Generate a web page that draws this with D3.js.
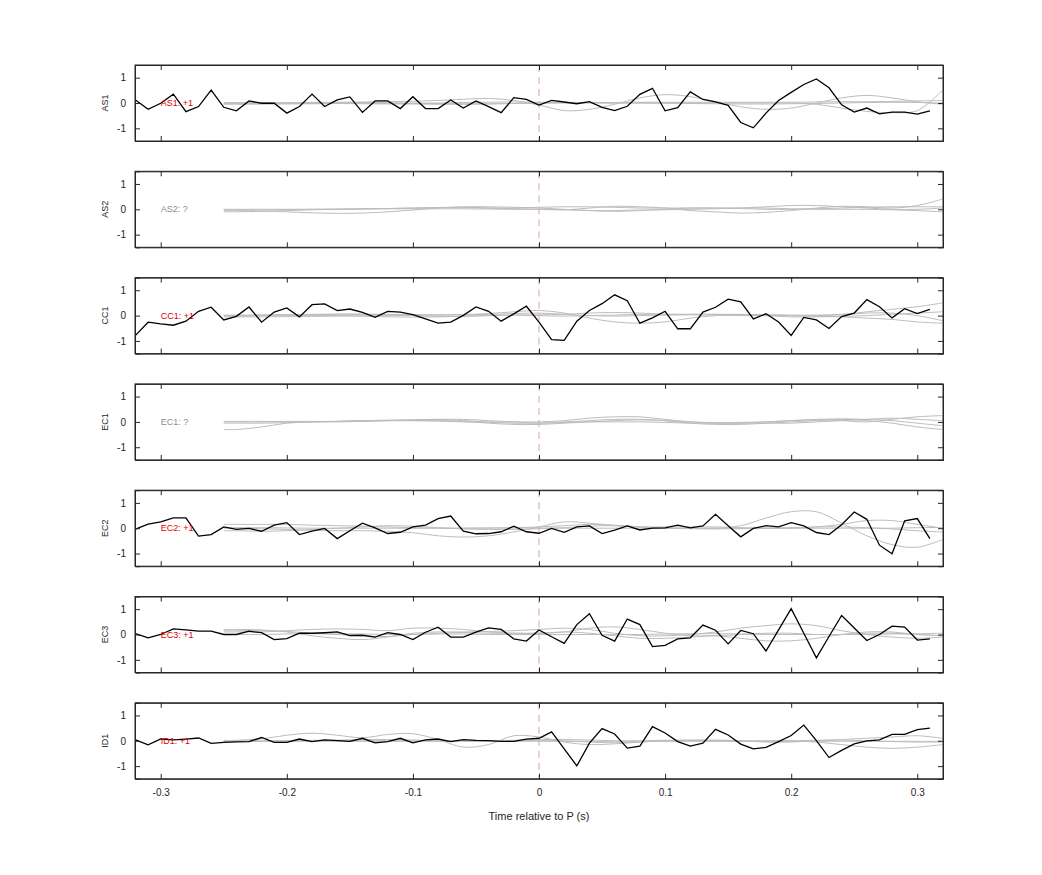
<!DOCTYPE html>
<html><head><meta charset="utf-8">
<script src="https://cdn.jsdelivr.net/npm/d3@7"></script>
<style>body{margin:0;background:#fff;font-family:"Liberation Sans",Arial,sans-serif;}</style>
</head><body><div id="chart"></div>
<script>
const channels = ["AS1","AS2","CC1","EC1","EC2","EC3","ID1"];
const labels = ["AS1: +1","AS2: ?","CC1: +1","EC1: ?","EC2: +1","EC3: +1","ID1: +1"];
const labelIsRed = [true,false,true,false,true,true,true];
const xTicks = [-0.3,-0.2,-0.1,0,0.1,0.2,0.3];
const xTickLabels = ["-0.3","-0.2","-0.1","0","0.1","0.2","0.3"];
const yTicks = [-1,0,1];
const yTickLabels = ["-1","0","1"];

const time = [-0.32,-0.31,-0.30,-0.29,-0.28,-0.27,-0.26,-0.25,-0.24,-0.23,-0.22,-0.21,-0.20,-0.19,-0.18,-0.17,-0.16,-0.15,-0.14,-0.13,-0.12,-0.11,-0.10,-0.09,-0.08,-0.07,-0.06,-0.05,-0.04,-0.03,-0.02,-0.01,0.00,0.01,0.02,0.03,0.04,0.05,0.06,0.07,0.08,0.09,0.10,0.11,0.12,0.13,0.14,0.15,0.16,0.17,0.18,0.19,0.20,0.21,0.22,0.23,0.24,0.25,0.26,0.27,0.28,0.29,0.30,0.31];

const AS1 = [0.12,-0.25,-0.01,0.35,-0.34,-0.14,0.51,-0.17,-0.31,0.08,-0.01,-0.01,-0.40,-0.14,0.35,-0.14,0.12,0.24,-0.37,0.08,0.08,-0.22,0.25,-0.22,-0.22,0.12,-0.20,0.08,-0.14,-0.38,0.21,0.14,-0.08,0.10,0.04,-0.03,0.05,-0.17,-0.30,-0.13,0.34,0.58,-0.31,-0.18,0.44,0.14,0.04,-0.09,-0.77,-0.98,-0.40,0.10,0.42,0.73,0.95,0.60,-0.07,-0.36,-0.20,-0.43,-0.36,-0.36,-0.44,-0.31];
const AS2 = null;
const CC1 = [-0.78,-0.26,-0.33,-0.38,-0.22,0.17,0.33,-0.17,-0.03,0.34,-0.26,0.14,0.30,-0.05,0.43,0.46,0.20,0.26,0.13,-0.07,0.17,0.14,0.04,-0.13,-0.30,-0.26,0.01,0.34,0.17,-0.22,0.07,0.37,-0.26,-0.95,-0.98,-0.22,0.20,0.47,0.82,0.59,-0.30,-0.09,0.17,-0.52,-0.52,0.14,0.33,0.65,0.54,-0.13,0.07,-0.25,-0.78,-0.07,-0.17,-0.51,-0.04,0.10,0.63,0.35,-0.09,0.27,0.08,0.25];
const EC1 = null;
const EC2 = [-0.04,0.16,0.25,0.41,0.41,-0.31,-0.25,0.05,-0.05,-0.01,-0.12,0.12,0.22,-0.25,-0.12,-0.01,-0.41,-0.10,0.20,0.01,-0.21,-0.16,0.05,0.12,0.38,0.48,-0.12,-0.22,-0.21,-0.14,0.08,-0.14,-0.20,-0.01,-0.16,0.05,0.09,-0.21,-0.08,0.09,-0.07,0.00,0.01,0.12,0.01,0.09,0.55,0.10,-0.34,-0.01,0.10,0.05,0.22,0.09,-0.17,-0.25,0.14,0.64,0.35,-0.67,-1.01,0.29,0.38,-0.41];
const EC3 = [0.03,-0.13,0.00,0.22,0.18,0.13,0.13,0.00,0.00,0.13,0.07,-0.20,-0.16,0.05,0.05,0.07,0.10,-0.04,-0.03,-0.10,0.07,0.00,-0.20,0.09,0.29,-0.10,-0.10,0.09,0.26,0.20,-0.17,-0.26,0.18,-0.09,-0.35,0.39,0.82,-0.03,-0.26,0.61,0.39,-0.48,-0.43,-0.17,-0.13,0.37,0.17,-0.37,0.16,0.03,-0.65,0.18,1.02,0.05,-0.92,-0.08,0.75,0.26,-0.24,0.00,0.33,0.29,-0.22,-0.17];
const ID1 = [0.04,-0.16,0.07,0.04,0.07,0.11,-0.10,-0.06,-0.04,-0.03,0.13,-0.06,-0.06,0.07,-0.03,0.04,0.01,-0.02,0.10,-0.08,-0.03,0.10,-0.08,0.04,0.07,-0.03,0.05,0.02,0.01,-0.02,-0.02,0.07,0.10,0.35,-0.32,-0.99,-0.09,0.48,0.27,-0.29,-0.21,0.56,0.31,-0.03,-0.21,-0.09,0.45,0.23,-0.13,-0.32,-0.26,-0.03,0.21,0.62,0.01,-0.66,-0.38,-0.12,0.00,0.04,0.25,0.25,0.44,0.50];
const mainSeries = [AS1, AS2, CC1, EC1, EC2, EC3, ID1];

const grayTime = [-0.25,-0.24,-0.22,-0.20,-0.18,-0.16,-0.14,-0.12,-0.10,-0.08,-0.06,-0.04,-0.02,0.00,0.02,0.04,0.06,0.08,0.10,0.12,0.14,0.16,0.18,0.20,0.22,0.24,0.26,0.28,0.30,0.32];

const grayAS1 = [
 [0,0,0,0.01,0.02,0.03,0.04,0.05,0.07,0.1,0.15,0.18,0.1,-0.08,-0.3,-0.25,-0.05,0.2,0.33,0.25,0.05,-0.15,-0.25,-0.2,0,0.2,0.3,0.2,0.05,-0.05],
 [-0.05,-0.05,-0.04,-0.03,-0.02,-0.02,-0.03,-0.03,-0.02,-0.02,-0.03,-0.03,-0.02,0,0.01,0.01,0,0,0,0,0,0,0,0,-0.05,-0.2,-0.33,-0.38,-0.3,0.5],
 [0.02,0.02,0.01,0,0,0.01,0.02,0.01,0,0,0.02,0.03,0.04,0.03,0.02,0.02,0.02,0.03,0.03,0.03,0.03,0.03,0.03,0.03,0.04,0.05,0.05,0.06,0.08,0.1],
 [-0.02,-0.02,-0.03,-0.03,-0.03,-0.02,-0.02,-0.03,-0.04,-0.05,-0.05,-0.04,-0.02,0,0,0,0,0,-0.01,-0.02,-0.03,-0.04,-0.04,-0.03,-0.02,0,0.02,0.03,0.02,0]
];
const grayAS2 = [
 [-0.1,-0.1,-0.08,-0.05,-0.02,0,0.01,0.03,0.05,0.07,0.08,0.05,0.02,0,-0.02,0.05,0.12,0.1,0.05,-0.05,-0.1,-0.15,-0.12,-0.05,0.05,0.12,0.1,0.05,0.15,0.4],
 [-0.05,-0.05,-0.07,-0.1,-0.14,-0.16,-0.15,-0.1,-0.03,0.05,0.1,0.1,0.08,0.05,0,-0.05,-0.08,-0.05,0,0.05,0.05,0.03,0,0,0.02,0.05,0.08,0.1,0.1,0.1],
 [0,0,0,0,0,0,0.02,0.03,0.05,0.07,0.07,0.05,0.05,0.08,0.1,0.1,0.08,0.05,0.05,0.05,0.05,0.05,0.05,0.02,0,0,0,-0.02,-0.05,-0.1],
 [-0.03,-0.03,-0.02,-0.01,0,0.01,0.02,0.02,0.02,0.02,0.02,0.01,0,0,-0.02,-0.05,-0.05,-0.03,-0.02,0,0.02,0.05,0.1,0.15,0.15,0.1,0.05,0,0,0.05]
];
const grayCC1 = [
 [0,0,0.02,0.04,0.05,0.06,0.06,0.05,0.04,0.03,0.04,0.08,0.15,0.2,0.1,-0.1,-0.25,-0.3,-0.25,-0.1,0,0.03,0.03,0.02,0.02,0.05,0.15,0.25,0.35,0.5],
 [-0.05,-0.05,-0.05,-0.04,-0.03,-0.02,-0.01,0,0.01,0.02,0.03,0.05,0.08,0.1,0.05,0,-0.02,0,0.02,0.03,0.02,0,0,0,0,0.03,0.1,0.1,0,-0.2],
 [0.02,0.02,0.02,0.02,0.01,0,-0.02,-0.05,-0.06,-0.05,-0.02,0,0.02,0.03,0.05,0.1,0.12,0.1,0.05,0.05,0.05,0.03,0,-0.05,-0.05,-0.03,0,0.05,0.1,0.15],
 [-0.02,-0.02,0,0.02,0.04,0.05,0.05,0.03,0,-0.03,-0.03,0,0.02,0,-0.02,0,0.02,0.05,0.05,0.05,0.05,0.05,0.03,0,-0.03,-0.05,-0.1,-0.15,-0.25,-0.3]
];
const grayEC1 = [
 [-0.3,-0.3,-0.2,-0.05,0,0,0.02,0.05,0.08,0.1,0.05,0,0,0,0.05,0.15,0.2,0.2,0.1,0,-0.05,-0.05,0,0.05,0.1,0.12,0.1,0.05,-0.05,-0.15],
 [-0.05,-0.05,-0.05,-0.03,0,0.02,0.05,0.07,0.08,0.1,0.1,0.05,0,-0.05,0,0.05,0.1,0.1,0.05,-0.05,-0.1,-0.1,-0.05,0,0.05,0.1,0.05,-0.05,-0.2,-0.3],
 [0,0,0,0,0,0.02,0.05,0.05,0.05,0.05,0.02,-0.05,-0.1,-0.1,-0.05,0,0.05,0.08,0.05,0,-0.03,-0.05,-0.05,-0.05,0,0.05,0.1,0.15,0.1,0.05],
 [0.02,0.02,0.02,0.02,0.02,0.02,0.03,0.05,0.05,0.03,0,-0.02,-0.05,-0.05,-0.02,0,0,0,-0.02,-0.05,-0.05,-0.02,0,0.05,0.08,0.05,0,0.1,0.2,0.25]
];
const grayEC2 = [
 [0.15,0.15,0.15,0.15,0.12,0.1,0.08,0.05,0.02,0,0,0,0.02,0.05,0.1,0.15,0.12,0.05,0,0,0,0.1,0.4,0.65,0.65,0.2,-0.3,-0.65,-0.75,-0.45],
 [0,0,-0.02,-0.05,-0.08,-0.1,-0.1,-0.12,-0.18,-0.3,-0.35,-0.3,-0.15,0.05,0.25,0.2,0.1,0.05,0.05,0.05,0.05,0.02,0,0,0.05,0.15,0.3,0.3,0.15,0],
 [-0.1,-0.1,-0.12,-0.1,-0.05,0,0.05,0.1,0.08,0.02,-0.03,-0.05,-0.05,-0.02,0.02,0.08,0.1,0.05,0,-0.02,-0.03,-0.02,0,0.02,0.05,0.05,0.02,-0.03,-0.1,-0.15],
 [0.02,0.02,0.02,0.01,0,0,0,0,0,0,0,0.01,0.01,0.01,0,0,0,0,0,0,0,0,0,0,0,0,0,0,0.02,0.03]
];
const grayEC3 = [
 [0.2,0.2,0.18,0.1,-0.05,-0.15,-0.2,-0.1,0.05,0.1,0.1,0.12,0.15,0.2,0.25,0.2,0.05,-0.05,-0.05,0,0.1,0.25,0.35,0.42,0.35,0.15,0,-0.1,-0.15,-0.1],
 [0.1,0.1,0.1,0.15,0.2,0.22,0.2,0.15,0.25,0.25,0.2,0.1,0.05,0.05,0.1,0.05,-0.05,-0.15,-0.15,-0.1,-0.05,-0.15,-0.25,-0.25,-0.15,0,0.1,0.1,0,-0.05],
 [0.15,0.15,0.15,0.12,0.05,0,-0.05,-0.08,0,0.05,0.08,0.05,0.05,0.05,0.1,0.25,0.3,0.2,0.05,-0.05,-0.05,0,0.05,0.05,0,0,0.05,0.05,0,-0.05],
 [0,0,0,0.02,0.03,0.03,0.02,0,0,0.02,0.02,0,0,0,0,0,0,0,0.02,0.03,0.03,0.02,0,0,0,0,0,0.02,0.03,0.05]
];
const grayID1 = [
 [0,0.02,0.08,0.22,0.3,0.22,0.12,0.25,0.28,0.05,-0.25,-0.15,0.2,0.15,-0.05,-0.15,-0.12,-0.05,0,0.02,0,-0.02,-0.02,0,0.02,0.03,0,-0.03,-0.05,-0.05],
 [0,0,0,0,0,0.02,0.05,0.05,0.03,0,0,0,0,0.02,0,-0.05,-0.08,-0.05,0,0,0,0,0,0,-0.05,-0.15,-0.25,-0.3,-0.25,-0.15],
 [-0.02,-0.02,-0.02,0,0.02,0.02,0,0,0,0,0,0,0.02,0.05,0.05,0.03,0,0,0.02,0.03,0.03,0,-0.05,-0.05,0,0.05,0.1,0.15,0.2,0.1],
 [-0.03,-0.03,-0.02,-0.02,-0.02,-0.02,-0.02,-0.02,-0.02,-0.02,-0.02,-0.02,-0.02,-0.02,-0.02,-0.02,-0.02,-0.02,-0.02,-0.02,-0.02,-0.02,-0.02,-0.02,-0.02,-0.02,-0.02,-0.02,-0.02,-0.02]
];
const graySeries = [grayAS1, grayAS2, grayCC1, grayEC1, grayEC2, grayEC3, grayID1];

const W = 1042, H = 875;
const left = 135, right = 943, top0 = 65, panelH = 76, step = 106.3;
const svg = d3.select("#chart").append("svg").attr("width", W).attr("height", H);
const x = d3.scaleLinear().domain([-0.3204, 0.3204]).range([left, right]);

channels.forEach((ch, i) => {
  const t = top0 + i * step;
  const y = d3.scaleLinear().domain([-1.5, 1.5]).range([t + panelH, t]);
  const g = svg.append("g");
  const clipId = "clip" + i;
  svg.append("clipPath").attr("id", clipId).append("rect")
    .attr("x", left).attr("y", t).attr("width", right - left).attr("height", panelH);
  const plot = g.append("g").attr("clip-path", `url(#${clipId})`);

  plot.append("line").attr("x1", x(0)).attr("x2", x(0)).attr("y1", t).attr("y2", t + panelH)
    .attr("stroke", "#d9a3a3").attr("stroke-width", 1).attr("stroke-dasharray", "7,5");

  const grayLine = d3.line().x((d, k) => x(grayTime[k])).y(d => y(d)).curve(d3.curveCatmullRom.alpha(0.5));
  graySeries[i].forEach(s => {
    plot.append("path").attr("d", grayLine(s)).attr("fill", "none")
      .attr("stroke", "#bdbdbd").attr("stroke-width", 1);
  });

  g.append("text").attr("x", x(-0.3)).attr("y", y(0)).attr("dy", "0.35em")
    .attr("font-size", 9).attr("fill", labelIsRed[i] ? "#e00000" : "#8c8c8c").text(labels[i]);

  if (mainSeries[i]) {
    const line = d3.line().x((d, k) => x(time[k])).y(d => y(d));
    plot.append("path").attr("d", line(mainSeries[i])).attr("fill", "none")
      .attr("stroke", "#000").attr("stroke-width", 1.3).attr("stroke-linejoin", "miter");
  }

  const axL = d3.axisLeft(y).tickValues(yTicks).tickSize(-5).tickPadding(9)
    .tickFormat((d, k) => yTickLabels[k]);
  const gl = g.append("g").attr("transform", `translate(${left},0)`).call(axL);
  const axR = d3.axisRight(y).tickValues(yTicks).tickSize(-5).tickFormat("");
  const gr = g.append("g").attr("transform", `translate(${right},0)`).call(axR);
  const axT = d3.axisTop(x).tickValues(xTicks).tickSize(-5).tickFormat("");
  const gt = g.append("g").attr("transform", `translate(0,${t})`).call(axT);
  const axB = d3.axisBottom(x).tickValues(xTicks).tickSize(-5).tickPadding(10)
    .tickFormat((d, k) => i === channels.length - 1 ? xTickLabels[k] : "");
  const gb = g.append("g").attr("transform", `translate(0,${t + panelH})`).call(axB);
  [gl, gr, gt, gb].forEach(a => {
    a.selectAll(".domain").attr("stroke", "#262626").attr("stroke-width", 1);
    a.selectAll(".tick line").attr("stroke", "#262626");
    a.selectAll("text").attr("font-size", 10).attr("fill", "#262626")
      .attr("font-family", "Liberation Sans, Arial, sans-serif");
  });
  g.append("rect").attr("x", left).attr("y", t).attr("width", right - left).attr("height", panelH)
    .attr("fill", "none").attr("stroke", "#262626").attr("stroke-width", 1);

  g.append("text").attr("transform", `translate(${105},${y(0)}) rotate(-90)`)
    .attr("text-anchor", "middle").attr("dy", "0.35em").attr("font-size", 9).attr("fill", "#262626").text(ch);
});

svg.append("text").attr("x", x(0)).attr("y", 820).attr("text-anchor", "middle")
  .attr("font-size", 11).attr("fill", "#262626").text("Time relative to P (s)");
</script>
</body></html>
